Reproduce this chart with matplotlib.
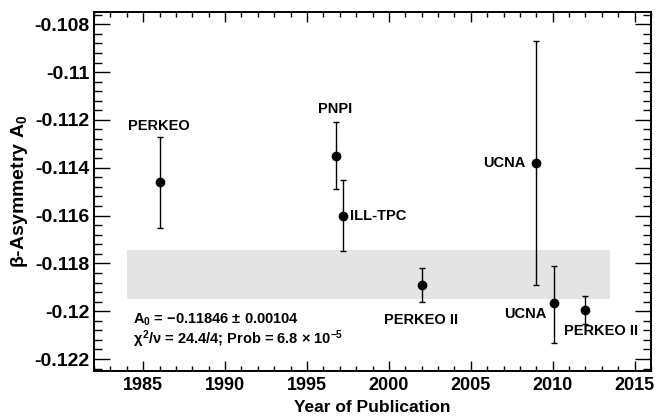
import matplotlib
matplotlib.use('Agg')
import matplotlib.pyplot as plt
from matplotlib.ticker import MultipleLocator, FixedLocator

plt.rcParams['font.family'] = ['Liberation Sans', 'DejaVu Sans']
plt.rcParams['font.weight'] = 'bold'
plt.rcParams['mathtext.fontset'] = 'custom'
plt.rcParams['mathtext.rm'] = 'Liberation Sans:bold'
plt.rcParams['mathtext.it'] = 'Liberation Sans:bold'
plt.rcParams['mathtext.bf'] = 'Liberation Sans:bold'
plt.rcParams['mathtext.sf'] = 'Liberation Sans:bold'

# ---- data ----
experiments = ['PERKEO', 'PNPI', 'ILL-TPC', 'PERKEO II', 'UCNA', 'UCNA', 'PERKEO II']
years = [1986.0, 1996.8, 1997.2, 2002.0, 2009.0, 2010.1, 2012.0]
a0 = [-0.1146, -0.1135, -0.1160, -0.1189, -0.1138, -0.11966, -0.11996]
err_up = [0.0019, 0.0014, 0.0015, 0.0007, 0.0051, 0.00153, 0.00058]
err_dn = [0.0019, 0.0014, 0.0015, 0.0007, 0.0051, 0.00167, 0.00058]

fit_value = -0.11846
fit_error = 0.00104
band_years = [1984.0, 2013.5]
chi2_text = r'$\chi^2/\nu$ = 24.4/4; Prob = 6.8 $\times$ 10$^{-5}$'
fit_text = r'A$_0$ = $-$0.11846 $\pm$ 0.00104'

ytick_values = [-0.122, -0.12, -0.118, -0.116, -0.114, -0.112, -0.11, -0.108]
ytick_labels = ['-0.122', '-0.12', '-0.118', '-0.116', '-0.114', '-0.112', '-0.11', '-0.108']
xtick_values = [1985, 1990, 1995, 2000, 2005, 2010, 2015]

# ---- label layout (offsets in pixels from the point / error bar end) ----
label_layout = [
    ('top', -1, 11, 'center'),
    ('top', -1, 13, 'center'),
    ('point', 7, 0, 'left'),
    ('bottom', -1, -18, 'center'),
    ('point', -11, 0, 'right'),
    ('point', -8, -11, 'right'),
    ('bottom', 16, -7, 'center'),
]

fig = plt.figure(figsize=(6.66, 4.16), dpi=100)
ax = fig.add_axes([94/666, 1-371/416, (651-94)/666, (371-12.3)/416])

ax.fill_between(band_years, [fit_value - fit_error]*2, [fit_value + fit_error]*2,
                color='#e4e4e4', lw=0, zorder=1)

ax.errorbar(years, a0, yerr=[err_dn, err_up], fmt='o', color='black',
            ms=6, lw=1.0, elinewidth=1.0, capsize=2, capthick=1.0, zorder=3)

for name, x, y, eu, ed, (anc, dx, dy, ha) in zip(experiments, years, a0, err_up, err_dn, label_layout):
    if anc == 'top':
        yy = y + eu
    elif anc == 'bottom':
        yy = y - ed
    else:
        yy = y
    ax.annotate(name, xy=(x, yy), xytext=(dx, dy), textcoords='offset pixels',
                ha=ha, va='center', fontsize=10.5, fontweight='bold')

ax.text(0.07, 0.144, fit_text, transform=ax.transAxes, fontsize=10.5,
        fontweight='bold', va='center', ha='left')
ax.text(0.07, 0.089, chi2_text, transform=ax.transAxes, fontsize=10.5,
        fontweight='bold', va='center', ha='left')

ax.set_xlim(1982, 2016)
ax.set_ylim(-0.1225, -0.1075)

ax.xaxis.set_major_locator(FixedLocator(xtick_values))
ax.xaxis.set_minor_locator(MultipleLocator(1))
ax.yaxis.set_major_locator(FixedLocator(ytick_values))
ax.set_yticklabels(ytick_labels)
ax.yaxis.set_minor_locator(MultipleLocator(0.0004))

ax.tick_params(axis='both', which='both', direction='in', top=True, right=True, width=1.0)
ax.tick_params(axis='x', which='major', length=7.2, pad=4, labelsize=13)
ax.tick_params(axis='x', which='minor', length=3.6)
ax.tick_params(axis='y', which='major', length=11.5, pad=3, labelsize=14)
ax.tick_params(axis='y', which='minor', length=5.8)
for lab in ax.get_xticklabels() + ax.get_yticklabels():
    lab.set_fontweight('bold')

for s in ax.spines.values():
    s.set_linewidth(1.4)

ax.set_xlabel('Year of Publication', fontsize=12.5, fontweight='bold', labelpad=5)
ax.set_ylabel(r'$\beta$-Asymmetry A$_0$', fontsize=14, fontweight='bold', labelpad=3)

fig.savefig('out.png', dpi=100)
